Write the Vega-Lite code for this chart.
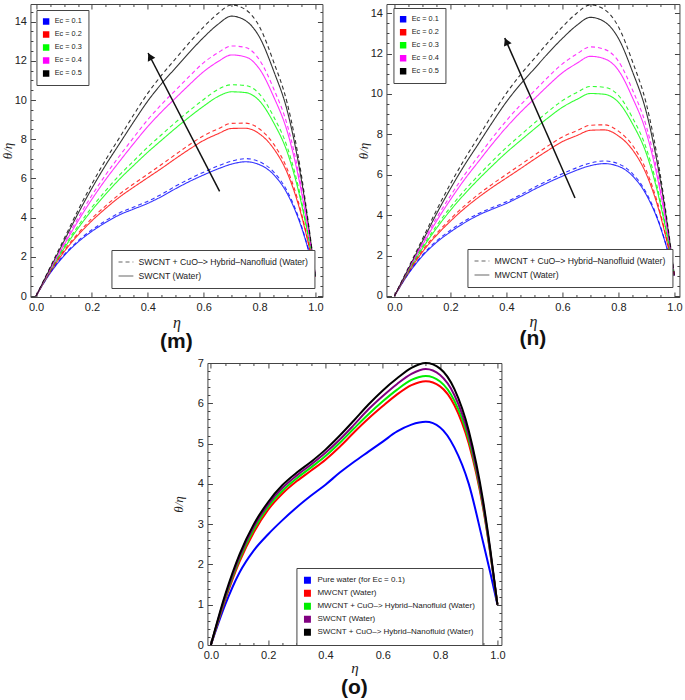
{
"$schema": "https://vega.github.io/schema/vega-lite/v6.json",
"padding": {"left": 0, "top": 2, "right": 0, "bottom": 0},
"background": "white",
"config": {
  "view": {"stroke": "#444", "strokeWidth": 1},
  "axis": {"grid": false, "domain": false, "labelFont": "Liberation Sans", "labelColor": "#222", "tickColor": "#444", "titleColor": "#222", "labelFontSize": 11},
  "legend": {"labelFont": "Liberation Sans", "labelColor": "#222", "labelLimit": 0, "rowPadding": 2}
},
"datasets": {
"m": [
{"e":"0.1","t":"s","x":0,"y":0},{"e":"0.1","t":"s","x":0.05,"y":1.15},{"e":"0.1","t":"s","x":0.1,"y":2.05},{"e":"0.1","t":"s","x":0.15,"y":2.75},{"e":"0.1","t":"s","x":0.2,"y":3.3},{"e":"0.1","t":"s","x":0.25,"y":3.76},{"e":"0.1","t":"s","x":0.3,"y":4.15},{"e":"0.1","t":"s","x":0.35,"y":4.44},{"e":"0.1","t":"s","x":0.4,"y":4.73},{"e":"0.1","t":"s","x":0.45,"y":5.08},{"e":"0.1","t":"s","x":0.5,"y":5.48},{"e":"0.1","t":"s","x":0.55,"y":5.85},{"e":"0.1","t":"s","x":0.6,"y":6.18},{"e":"0.1","t":"s","x":0.65,"y":6.48},{"e":"0.1","t":"s","x":0.7,"y":6.73},{"e":"0.1","t":"s","x":0.75,"y":6.85},{"e":"0.1","t":"s","x":0.8,"y":6.7},{"e":"0.1","t":"s","x":0.85,"y":6.2},{"e":"0.1","t":"s","x":0.9,"y":5.2},{"e":"0.1","t":"s","x":0.95,"y":3.5},{"e":"0.1","t":"s","x":0.975,"y":2.33},{"e":"0.1","t":"s","x":1,"y":1},
{"e":"0.2","t":"s","x":0,"y":0},{"e":"0.2","t":"s","x":0.05,"y":1.2},{"e":"0.2","t":"s","x":0.1,"y":2.25},{"e":"0.2","t":"s","x":0.15,"y":3.1},{"e":"0.2","t":"s","x":0.2,"y":3.84},{"e":"0.2","t":"s","x":0.25,"y":4.48},{"e":"0.2","t":"s","x":0.3,"y":5.06},{"e":"0.2","t":"s","x":0.35,"y":5.56},{"e":"0.2","t":"s","x":0.4,"y":6.04},{"e":"0.2","t":"s","x":0.45,"y":6.52},{"e":"0.2","t":"s","x":0.5,"y":7.02},{"e":"0.2","t":"s","x":0.55,"y":7.5},{"e":"0.2","t":"s","x":0.6,"y":7.94},{"e":"0.2","t":"s","x":0.65,"y":8.27},{"e":"0.2","t":"s","x":0.7,"y":8.55},{"e":"0.2","t":"s","x":0.75,"y":8.56},{"e":"0.2","t":"s","x":0.8,"y":8.27},{"e":"0.2","t":"s","x":0.85,"y":7.53},{"e":"0.2","t":"s","x":0.9,"y":6.25},{"e":"0.2","t":"s","x":0.95,"y":4.1},{"e":"0.2","t":"s","x":0.975,"y":2.65},{"e":"0.2","t":"s","x":1,"y":1},
{"e":"0.3","t":"s","x":0,"y":0},{"e":"0.3","t":"s","x":0.05,"y":1.25},{"e":"0.3","t":"s","x":0.1,"y":2.42},{"e":"0.3","t":"s","x":0.15,"y":3.45},{"e":"0.3","t":"s","x":0.2,"y":4.38},{"e":"0.3","t":"s","x":0.25,"y":5.21},{"e":"0.3","t":"s","x":0.3,"y":5.98},{"e":"0.3","t":"s","x":0.35,"y":6.67},{"e":"0.3","t":"s","x":0.4,"y":7.34},{"e":"0.3","t":"s","x":0.45,"y":7.96},{"e":"0.3","t":"s","x":0.5,"y":8.57},{"e":"0.3","t":"s","x":0.55,"y":9.15},{"e":"0.3","t":"s","x":0.6,"y":9.69},{"e":"0.3","t":"s","x":0.65,"y":10.17},{"e":"0.3","t":"s","x":0.7,"y":10.42},{"e":"0.3","t":"s","x":0.75,"y":10.38},{"e":"0.3","t":"s","x":0.8,"y":9.95},{"e":"0.3","t":"s","x":0.85,"y":8.85},{"e":"0.3","t":"s","x":0.9,"y":7.3},{"e":"0.3","t":"s","x":0.95,"y":4.7},{"e":"0.3","t":"s","x":0.975,"y":2.97},{"e":"0.3","t":"s","x":1,"y":1},
{"e":"0.4","t":"s","x":0,"y":0},{"e":"0.4","t":"s","x":0.05,"y":1.3},{"e":"0.4","t":"s","x":0.1,"y":2.6},{"e":"0.4","t":"s","x":0.15,"y":3.82},{"e":"0.4","t":"s","x":0.2,"y":4.94},{"e":"0.4","t":"s","x":0.25,"y":5.96},{"e":"0.4","t":"s","x":0.3,"y":6.89},{"e":"0.4","t":"s","x":0.35,"y":7.79},{"e":"0.4","t":"s","x":0.4,"y":8.65},{"e":"0.4","t":"s","x":0.45,"y":9.41},{"e":"0.4","t":"s","x":0.5,"y":10.11},{"e":"0.4","t":"s","x":0.55,"y":10.8},{"e":"0.4","t":"s","x":0.6,"y":11.45},{"e":"0.4","t":"s","x":0.65,"y":11.95},{"e":"0.4","t":"s","x":0.7,"y":12.3},{"e":"0.4","t":"s","x":0.75,"y":12.2},{"e":"0.4","t":"s","x":0.8,"y":11.58},{"e":"0.4","t":"s","x":0.85,"y":10.18},{"e":"0.4","t":"s","x":0.9,"y":8.35},{"e":"0.4","t":"s","x":0.95,"y":5.3},{"e":"0.4","t":"s","x":0.975,"y":3.28},{"e":"0.4","t":"s","x":1,"y":1},
{"e":"0.5","t":"s","x":0,"y":0},{"e":"0.5","t":"s","x":0.05,"y":1.4},{"e":"0.5","t":"s","x":0.1,"y":2.8},{"e":"0.5","t":"s","x":0.15,"y":4.2},{"e":"0.5","t":"s","x":0.2,"y":5.5},{"e":"0.5","t":"s","x":0.25,"y":6.7},{"e":"0.5","t":"s","x":0.3,"y":7.8},{"e":"0.5","t":"s","x":0.35,"y":8.9},{"e":"0.5","t":"s","x":0.4,"y":9.95},{"e":"0.5","t":"s","x":0.45,"y":10.85},{"e":"0.5","t":"s","x":0.5,"y":11.65},{"e":"0.5","t":"s","x":0.55,"y":12.45},{"e":"0.5","t":"s","x":0.6,"y":13.2},{"e":"0.5","t":"s","x":0.65,"y":13.85},{"e":"0.5","t":"s","x":0.7,"y":14.28},{"e":"0.5","t":"s","x":0.75,"y":14.05},{"e":"0.5","t":"s","x":0.8,"y":13.2},{"e":"0.5","t":"s","x":0.85,"y":11.5},{"e":"0.5","t":"s","x":0.9,"y":9.4},{"e":"0.5","t":"s","x":0.95,"y":5.9},{"e":"0.5","t":"s","x":0.975,"y":3.6},{"e":"0.5","t":"s","x":1,"y":1},
{"e":"0.1","t":"d","x":0,"y":0},{"e":"0.1","t":"d","x":0.05,"y":1.18},{"e":"0.1","t":"d","x":0.1,"y":2.1},{"e":"0.1","t":"d","x":0.15,"y":2.81},{"e":"0.1","t":"d","x":0.2,"y":3.38},{"e":"0.1","t":"d","x":0.25,"y":3.85},{"e":"0.1","t":"d","x":0.3,"y":4.25},{"e":"0.1","t":"d","x":0.35,"y":4.54},{"e":"0.1","t":"d","x":0.4,"y":4.84},{"e":"0.1","t":"d","x":0.45,"y":5.2},{"e":"0.1","t":"d","x":0.5,"y":5.61},{"e":"0.1","t":"d","x":0.55,"y":5.98},{"e":"0.1","t":"d","x":0.6,"y":6.32},{"e":"0.1","t":"d","x":0.65,"y":6.63},{"e":"0.1","t":"d","x":0.7,"y":6.88},{"e":"0.1","t":"d","x":0.75,"y":7.01},{"e":"0.1","t":"d","x":0.8,"y":6.85},{"e":"0.1","t":"d","x":0.85,"y":6.34},{"e":"0.1","t":"d","x":0.9,"y":5.32},{"e":"0.1","t":"d","x":0.95,"y":3.58},{"e":"0.1","t":"d","x":0.975,"y":2.37},{"e":"0.1","t":"d","x":1,"y":1},
{"e":"0.2","t":"d","x":0,"y":0},{"e":"0.2","t":"d","x":0.05,"y":1.24},{"e":"0.2","t":"d","x":0.1,"y":2.32},{"e":"0.2","t":"d","x":0.15,"y":3.19},{"e":"0.2","t":"d","x":0.2,"y":3.96},{"e":"0.2","t":"d","x":0.25,"y":4.61},{"e":"0.2","t":"d","x":0.3,"y":5.21},{"e":"0.2","t":"d","x":0.35,"y":5.73},{"e":"0.2","t":"d","x":0.4,"y":6.22},{"e":"0.2","t":"d","x":0.45,"y":6.72},{"e":"0.2","t":"d","x":0.5,"y":7.23},{"e":"0.2","t":"d","x":0.55,"y":7.73},{"e":"0.2","t":"d","x":0.6,"y":8.18},{"e":"0.2","t":"d","x":0.65,"y":8.52},{"e":"0.2","t":"d","x":0.7,"y":8.81},{"e":"0.2","t":"d","x":0.75,"y":8.82},{"e":"0.2","t":"d","x":0.8,"y":8.52},{"e":"0.2","t":"d","x":0.85,"y":7.76},{"e":"0.2","t":"d","x":0.9,"y":6.44},{"e":"0.2","t":"d","x":0.95,"y":4.22},{"e":"0.2","t":"d","x":0.975,"y":2.7},{"e":"0.2","t":"d","x":1,"y":1},
{"e":"0.3","t":"d","x":0,"y":0},{"e":"0.3","t":"d","x":0.05,"y":1.29},{"e":"0.3","t":"d","x":0.1,"y":2.5},{"e":"0.3","t":"d","x":0.15,"y":3.57},{"e":"0.3","t":"d","x":0.2,"y":4.53},{"e":"0.3","t":"d","x":0.25,"y":5.39},{"e":"0.3","t":"d","x":0.3,"y":6.19},{"e":"0.3","t":"d","x":0.35,"y":6.9},{"e":"0.3","t":"d","x":0.4,"y":7.6},{"e":"0.3","t":"d","x":0.45,"y":8.24},{"e":"0.3","t":"d","x":0.5,"y":8.87},{"e":"0.3","t":"d","x":0.55,"y":9.47},{"e":"0.3","t":"d","x":0.6,"y":10.03},{"e":"0.3","t":"d","x":0.65,"y":10.53},{"e":"0.3","t":"d","x":0.7,"y":10.78},{"e":"0.3","t":"d","x":0.75,"y":10.74},{"e":"0.3","t":"d","x":0.8,"y":10.3},{"e":"0.3","t":"d","x":0.85,"y":9.16},{"e":"0.3","t":"d","x":0.9,"y":7.56},{"e":"0.3","t":"d","x":0.95,"y":4.86},{"e":"0.3","t":"d","x":0.975,"y":3.03},{"e":"0.3","t":"d","x":1,"y":1},
{"e":"0.4","t":"d","x":0,"y":0},{"e":"0.4","t":"d","x":0.05,"y":1.35},{"e":"0.4","t":"d","x":0.1,"y":2.7},{"e":"0.4","t":"d","x":0.15,"y":3.97},{"e":"0.4","t":"d","x":0.2,"y":5.14},{"e":"0.4","t":"d","x":0.25,"y":6.2},{"e":"0.4","t":"d","x":0.3,"y":7.17},{"e":"0.4","t":"d","x":0.35,"y":8.1},{"e":"0.4","t":"d","x":0.4,"y":9},{"e":"0.4","t":"d","x":0.45,"y":9.79},{"e":"0.4","t":"d","x":0.5,"y":10.51},{"e":"0.4","t":"d","x":0.55,"y":11.23},{"e":"0.4","t":"d","x":0.6,"y":11.91},{"e":"0.4","t":"d","x":0.65,"y":12.4},{"e":"0.4","t":"d","x":0.7,"y":12.76},{"e":"0.4","t":"d","x":0.75,"y":12.68},{"e":"0.4","t":"d","x":0.8,"y":12.04},{"e":"0.4","t":"d","x":0.85,"y":10.59},{"e":"0.4","t":"d","x":0.9,"y":8.68},{"e":"0.4","t":"d","x":0.95,"y":5.51},{"e":"0.4","t":"d","x":0.975,"y":3.35},{"e":"0.4","t":"d","x":1,"y":1},
{"e":"0.5","t":"d","x":0,"y":0},{"e":"0.5","t":"d","x":0.05,"y":1.46},{"e":"0.5","t":"d","x":0.1,"y":2.91},{"e":"0.5","t":"d","x":0.15,"y":4.37},{"e":"0.5","t":"d","x":0.2,"y":5.72},{"e":"0.5","t":"d","x":0.25,"y":6.97},{"e":"0.5","t":"d","x":0.3,"y":8.11},{"e":"0.5","t":"d","x":0.35,"y":9.26},{"e":"0.5","t":"d","x":0.4,"y":10.35},{"e":"0.5","t":"d","x":0.45,"y":11.28},{"e":"0.5","t":"d","x":0.5,"y":12.12},{"e":"0.5","t":"d","x":0.55,"y":12.95},{"e":"0.5","t":"d","x":0.6,"y":13.73},{"e":"0.5","t":"d","x":0.65,"y":14.4},{"e":"0.5","t":"d","x":0.7,"y":14.85},{"e":"0.5","t":"d","x":0.75,"y":14.61},{"e":"0.5","t":"d","x":0.8,"y":13.73},{"e":"0.5","t":"d","x":0.85,"y":11.96},{"e":"0.5","t":"d","x":0.9,"y":9.78},{"e":"0.5","t":"d","x":0.95,"y":6.14},{"e":"0.5","t":"d","x":0.975,"y":3.7},{"e":"0.5","t":"d","x":1,"y":1}
],
"n": [
{"e":"0.1","t":"s","x":0,"y":0},{"e":"0.1","t":"s","x":0.05,"y":1.1},{"e":"0.1","t":"s","x":0.1,"y":1.98},{"e":"0.1","t":"s","x":0.15,"y":2.65},{"e":"0.1","t":"s","x":0.2,"y":3.17},{"e":"0.1","t":"s","x":0.25,"y":3.62},{"e":"0.1","t":"s","x":0.3,"y":4},{"e":"0.1","t":"s","x":0.35,"y":4.3},{"e":"0.1","t":"s","x":0.4,"y":4.58},{"e":"0.1","t":"s","x":0.45,"y":4.92},{"e":"0.1","t":"s","x":0.5,"y":5.28},{"e":"0.1","t":"s","x":0.55,"y":5.62},{"e":"0.1","t":"s","x":0.6,"y":5.93},{"e":"0.1","t":"s","x":0.65,"y":6.22},{"e":"0.1","t":"s","x":0.7,"y":6.45},{"e":"0.1","t":"s","x":0.75,"y":6.55},{"e":"0.1","t":"s","x":0.8,"y":6.42},{"e":"0.1","t":"s","x":0.85,"y":5.95},{"e":"0.1","t":"s","x":0.9,"y":5},{"e":"0.1","t":"s","x":0.95,"y":3.4},{"e":"0.1","t":"s","x":0.975,"y":2.28},{"e":"0.1","t":"s","x":1,"y":1},
{"e":"0.2","t":"s","x":0,"y":0},{"e":"0.2","t":"s","x":0.05,"y":1.16},{"e":"0.2","t":"s","x":0.1,"y":2.18},{"e":"0.2","t":"s","x":0.15,"y":3},{"e":"0.2","t":"s","x":0.2,"y":3.7},{"e":"0.2","t":"s","x":0.25,"y":4.33},{"e":"0.2","t":"s","x":0.3,"y":4.88},{"e":"0.2","t":"s","x":0.35,"y":5.38},{"e":"0.2","t":"s","x":0.4,"y":5.84},{"e":"0.2","t":"s","x":0.45,"y":6.3},{"e":"0.2","t":"s","x":0.5,"y":6.77},{"e":"0.2","t":"s","x":0.55,"y":7.22},{"e":"0.2","t":"s","x":0.6,"y":7.64},{"e":"0.2","t":"s","x":0.65,"y":7.93},{"e":"0.2","t":"s","x":0.7,"y":8.2},{"e":"0.2","t":"s","x":0.75,"y":8.22},{"e":"0.2","t":"s","x":0.8,"y":7.92},{"e":"0.2","t":"s","x":0.85,"y":7.24},{"e":"0.2","t":"s","x":0.9,"y":6.02},{"e":"0.2","t":"s","x":0.95,"y":3.98},{"e":"0.2","t":"s","x":0.975,"y":2.59},{"e":"0.2","t":"s","x":1,"y":1},
{"e":"0.3","t":"s","x":0,"y":0},{"e":"0.3","t":"s","x":0.05,"y":1.22},{"e":"0.3","t":"s","x":0.1,"y":2.35},{"e":"0.3","t":"s","x":0.15,"y":3.35},{"e":"0.3","t":"s","x":0.2,"y":4.24},{"e":"0.3","t":"s","x":0.25,"y":5.04},{"e":"0.3","t":"s","x":0.3,"y":5.77},{"e":"0.3","t":"s","x":0.35,"y":6.45},{"e":"0.3","t":"s","x":0.4,"y":7.1},{"e":"0.3","t":"s","x":0.45,"y":7.69},{"e":"0.3","t":"s","x":0.5,"y":8.27},{"e":"0.3","t":"s","x":0.55,"y":8.83},{"e":"0.3","t":"s","x":0.6,"y":9.34},{"e":"0.3","t":"s","x":0.65,"y":9.72},{"e":"0.3","t":"s","x":0.7,"y":10.02},{"e":"0.3","t":"s","x":0.75,"y":9.98},{"e":"0.3","t":"s","x":0.8,"y":9.59},{"e":"0.3","t":"s","x":0.85,"y":8.53},{"e":"0.3","t":"s","x":0.9,"y":7.04},{"e":"0.3","t":"s","x":0.95,"y":4.55},{"e":"0.3","t":"s","x":0.975,"y":2.89},{"e":"0.3","t":"s","x":1,"y":1},
{"e":"0.4","t":"s","x":0,"y":0},{"e":"0.4","t":"s","x":0.05,"y":1.28},{"e":"0.4","t":"s","x":0.1,"y":2.52},{"e":"0.4","t":"s","x":0.15,"y":3.7},{"e":"0.4","t":"s","x":0.2,"y":4.77},{"e":"0.4","t":"s","x":0.25,"y":5.76},{"e":"0.4","t":"s","x":0.3,"y":6.65},{"e":"0.4","t":"s","x":0.35,"y":7.53},{"e":"0.4","t":"s","x":0.4,"y":8.35},{"e":"0.4","t":"s","x":0.45,"y":9.09},{"e":"0.4","t":"s","x":0.5,"y":9.76},{"e":"0.4","t":"s","x":0.55,"y":10.43},{"e":"0.4","t":"s","x":0.6,"y":11.05},{"e":"0.4","t":"s","x":0.65,"y":11.5},{"e":"0.4","t":"s","x":0.7,"y":11.86},{"e":"0.4","t":"s","x":0.75,"y":11.74},{"e":"0.4","t":"s","x":0.8,"y":11.17},{"e":"0.4","t":"s","x":0.85,"y":9.82},{"e":"0.4","t":"s","x":0.9,"y":8.06},{"e":"0.4","t":"s","x":0.95,"y":5.13},{"e":"0.4","t":"s","x":0.975,"y":3.2},{"e":"0.4","t":"s","x":1,"y":1},
{"e":"0.5","t":"s","x":0,"y":0},{"e":"0.5","t":"s","x":0.05,"y":1.35},{"e":"0.5","t":"s","x":0.1,"y":2.7},{"e":"0.5","t":"s","x":0.15,"y":4.06},{"e":"0.5","t":"s","x":0.2,"y":5.31},{"e":"0.5","t":"s","x":0.25,"y":6.47},{"e":"0.5","t":"s","x":0.3,"y":7.53},{"e":"0.5","t":"s","x":0.35,"y":8.6},{"e":"0.5","t":"s","x":0.4,"y":9.61},{"e":"0.5","t":"s","x":0.45,"y":10.48},{"e":"0.5","t":"s","x":0.5,"y":11.25},{"e":"0.5","t":"s","x":0.55,"y":12.03},{"e":"0.5","t":"s","x":0.6,"y":12.75},{"e":"0.5","t":"s","x":0.65,"y":13.38},{"e":"0.5","t":"s","x":0.7,"y":13.79},{"e":"0.5","t":"s","x":0.75,"y":13.57},{"e":"0.5","t":"s","x":0.8,"y":12.75},{"e":"0.5","t":"s","x":0.85,"y":11.11},{"e":"0.5","t":"s","x":0.9,"y":9.08},{"e":"0.5","t":"s","x":0.95,"y":5.7},{"e":"0.5","t":"s","x":0.975,"y":3.5},{"e":"0.5","t":"s","x":1,"y":1},
{"e":"0.1","t":"d","x":0,"y":0},{"e":"0.1","t":"d","x":0.05,"y":1.13},{"e":"0.1","t":"d","x":0.1,"y":2.03},{"e":"0.1","t":"d","x":0.15,"y":2.72},{"e":"0.1","t":"d","x":0.2,"y":3.25},{"e":"0.1","t":"d","x":0.25,"y":3.71},{"e":"0.1","t":"d","x":0.3,"y":4.08},{"e":"0.1","t":"d","x":0.35,"y":4.38},{"e":"0.1","t":"d","x":0.4,"y":4.66},{"e":"0.1","t":"d","x":0.45,"y":5.01},{"e":"0.1","t":"d","x":0.5,"y":5.38},{"e":"0.1","t":"d","x":0.55,"y":5.73},{"e":"0.1","t":"d","x":0.6,"y":6.05},{"e":"0.1","t":"d","x":0.65,"y":6.34},{"e":"0.1","t":"d","x":0.7,"y":6.58},{"e":"0.1","t":"d","x":0.75,"y":6.68},{"e":"0.1","t":"d","x":0.8,"y":6.54},{"e":"0.1","t":"d","x":0.85,"y":6.06},{"e":"0.1","t":"d","x":0.9,"y":5.1},{"e":"0.1","t":"d","x":0.95,"y":3.45},{"e":"0.1","t":"d","x":0.975,"y":2.3},{"e":"0.1","t":"d","x":1,"y":1},
{"e":"0.2","t":"d","x":0,"y":0},{"e":"0.2","t":"d","x":0.05,"y":1.2},{"e":"0.2","t":"d","x":0.1,"y":2.25},{"e":"0.2","t":"d","x":0.15,"y":3.09},{"e":"0.2","t":"d","x":0.2,"y":3.81},{"e":"0.2","t":"d","x":0.25,"y":4.46},{"e":"0.2","t":"d","x":0.3,"y":5.03},{"e":"0.2","t":"d","x":0.35,"y":5.54},{"e":"0.2","t":"d","x":0.4,"y":6.02},{"e":"0.2","t":"d","x":0.45,"y":6.49},{"e":"0.2","t":"d","x":0.5,"y":6.97},{"e":"0.2","t":"d","x":0.55,"y":7.44},{"e":"0.2","t":"d","x":0.6,"y":7.87},{"e":"0.2","t":"d","x":0.65,"y":8.17},{"e":"0.2","t":"d","x":0.7,"y":8.45},{"e":"0.2","t":"d","x":0.75,"y":8.47},{"e":"0.2","t":"d","x":0.8,"y":8.16},{"e":"0.2","t":"d","x":0.85,"y":7.46},{"e":"0.2","t":"d","x":0.9,"y":6.2},{"e":"0.2","t":"d","x":0.95,"y":4.1},{"e":"0.2","t":"d","x":0.975,"y":2.65},{"e":"0.2","t":"d","x":1,"y":1},
{"e":"0.3","t":"d","x":0,"y":0},{"e":"0.3","t":"d","x":0.05,"y":1.26},{"e":"0.3","t":"d","x":0.1,"y":2.43},{"e":"0.3","t":"d","x":0.15,"y":3.47},{"e":"0.3","t":"d","x":0.2,"y":4.39},{"e":"0.3","t":"d","x":0.25,"y":5.22},{"e":"0.3","t":"d","x":0.3,"y":5.97},{"e":"0.3","t":"d","x":0.35,"y":6.68},{"e":"0.3","t":"d","x":0.4,"y":7.35},{"e":"0.3","t":"d","x":0.45,"y":7.96},{"e":"0.3","t":"d","x":0.5,"y":8.56},{"e":"0.3","t":"d","x":0.55,"y":9.14},{"e":"0.3","t":"d","x":0.6,"y":9.67},{"e":"0.3","t":"d","x":0.65,"y":10.06},{"e":"0.3","t":"d","x":0.7,"y":10.37},{"e":"0.3","t":"d","x":0.75,"y":10.33},{"e":"0.3","t":"d","x":0.8,"y":9.93},{"e":"0.3","t":"d","x":0.85,"y":8.83},{"e":"0.3","t":"d","x":0.9,"y":7.29},{"e":"0.3","t":"d","x":0.95,"y":4.71},{"e":"0.3","t":"d","x":0.975,"y":2.96},{"e":"0.3","t":"d","x":1,"y":1},
{"e":"0.4","t":"d","x":0,"y":0},{"e":"0.4","t":"d","x":0.05,"y":1.33},{"e":"0.4","t":"d","x":0.1,"y":2.62},{"e":"0.4","t":"d","x":0.15,"y":3.85},{"e":"0.4","t":"d","x":0.2,"y":4.96},{"e":"0.4","t":"d","x":0.25,"y":5.99},{"e":"0.4","t":"d","x":0.3,"y":6.92},{"e":"0.4","t":"d","x":0.35,"y":7.83},{"e":"0.4","t":"d","x":0.4,"y":8.68},{"e":"0.4","t":"d","x":0.45,"y":9.45},{"e":"0.4","t":"d","x":0.5,"y":10.15},{"e":"0.4","t":"d","x":0.55,"y":10.85},{"e":"0.4","t":"d","x":0.6,"y":11.49},{"e":"0.4","t":"d","x":0.65,"y":11.96},{"e":"0.4","t":"d","x":0.7,"y":12.33},{"e":"0.4","t":"d","x":0.75,"y":12.21},{"e":"0.4","t":"d","x":0.8,"y":11.62},{"e":"0.4","t":"d","x":0.85,"y":10.21},{"e":"0.4","t":"d","x":0.9,"y":8.38},{"e":"0.4","t":"d","x":0.95,"y":5.34},{"e":"0.4","t":"d","x":0.975,"y":3.3},{"e":"0.4","t":"d","x":1,"y":1},
{"e":"0.5","t":"d","x":0,"y":0},{"e":"0.5","t":"d","x":0.05,"y":1.41},{"e":"0.5","t":"d","x":0.1,"y":2.82},{"e":"0.5","t":"d","x":0.15,"y":4.24},{"e":"0.5","t":"d","x":0.2,"y":5.55},{"e":"0.5","t":"d","x":0.25,"y":6.76},{"e":"0.5","t":"d","x":0.3,"y":7.87},{"e":"0.5","t":"d","x":0.35,"y":8.99},{"e":"0.5","t":"d","x":0.4,"y":10.04},{"e":"0.5","t":"d","x":0.45,"y":10.95},{"e":"0.5","t":"d","x":0.5,"y":11.76},{"e":"0.5","t":"d","x":0.55,"y":12.57},{"e":"0.5","t":"d","x":0.6,"y":13.32},{"e":"0.5","t":"d","x":0.65,"y":13.98},{"e":"0.5","t":"d","x":0.7,"y":14.41},{"e":"0.5","t":"d","x":0.75,"y":14.18},{"e":"0.5","t":"d","x":0.8,"y":13.32},{"e":"0.5","t":"d","x":0.85,"y":11.61},{"e":"0.5","t":"d","x":0.9,"y":9.49},{"e":"0.5","t":"d","x":0.95,"y":5.96},{"e":"0.5","t":"d","x":0.975,"y":3.62},{"e":"0.5","t":"d","x":1,"y":1}
],
"o": [
{"c":"w","x":0,"y":0},{"c":"w","x":0.05,"y":1},{"c":"w","x":0.1,"y":1.8},{"c":"w","x":0.15,"y":2.35},{"c":"w","x":0.2,"y":2.75},{"c":"w","x":0.25,"y":3.1},{"c":"w","x":0.3,"y":3.42},{"c":"w","x":0.35,"y":3.71},{"c":"w","x":0.4,"y":3.98},{"c":"w","x":0.45,"y":4.28},{"c":"w","x":0.5,"y":4.55},{"c":"w","x":0.55,"y":4.8},{"c":"w","x":0.6,"y":5.05},{"c":"w","x":0.65,"y":5.3},{"c":"w","x":0.7,"y":5.47},{"c":"w","x":0.75,"y":5.54},{"c":"w","x":0.8,"y":5.4},{"c":"w","x":0.85,"y":4.9},{"c":"w","x":0.9,"y":4},{"c":"w","x":0.95,"y":2.55},{"c":"w","x":0.975,"y":1.8},{"c":"w","x":1,"y":1},
{"c":"mw","x":0,"y":0},{"c":"mw","x":0.05,"y":1.12},{"c":"mw","x":0.1,"y":2.07},{"c":"mw","x":0.15,"y":2.8},{"c":"mw","x":0.2,"y":3.36},{"c":"mw","x":0.25,"y":3.76},{"c":"mw","x":0.3,"y":4.07},{"c":"mw","x":0.35,"y":4.33},{"c":"mw","x":0.4,"y":4.6},{"c":"mw","x":0.45,"y":4.92},{"c":"mw","x":0.5,"y":5.28},{"c":"mw","x":0.55,"y":5.62},{"c":"mw","x":0.6,"y":5.93},{"c":"mw","x":0.65,"y":6.22},{"c":"mw","x":0.7,"y":6.45},{"c":"mw","x":0.75,"y":6.55},{"c":"mw","x":0.8,"y":6.42},{"c":"mw","x":0.85,"y":5.95},{"c":"mw","x":0.9,"y":5},{"c":"mw","x":0.95,"y":3.4},{"c":"mw","x":0.975,"y":2.28},{"c":"mw","x":1,"y":1},
{"c":"mwh","x":0,"y":0},{"c":"mwh","x":0.05,"y":1.16},{"c":"mwh","x":0.1,"y":2.13},{"c":"mwh","x":0.15,"y":2.87},{"c":"mwh","x":0.2,"y":3.43},{"c":"mwh","x":0.25,"y":3.83},{"c":"mwh","x":0.3,"y":4.14},{"c":"mwh","x":0.35,"y":4.41},{"c":"mwh","x":0.4,"y":4.69},{"c":"mwh","x":0.45,"y":5.02},{"c":"mwh","x":0.5,"y":5.38},{"c":"mwh","x":0.55,"y":5.73},{"c":"mwh","x":0.6,"y":6.05},{"c":"mwh","x":0.65,"y":6.34},{"c":"mwh","x":0.7,"y":6.58},{"c":"mwh","x":0.75,"y":6.68},{"c":"mwh","x":0.8,"y":6.54},{"c":"mwh","x":0.85,"y":6.06},{"c":"mwh","x":0.9,"y":5.1},{"c":"mwh","x":0.95,"y":3.45},{"c":"mwh","x":0.975,"y":2.3},{"c":"mwh","x":1,"y":1},
{"c":"sw","x":0,"y":0},{"c":"sw","x":0.05,"y":1.2},{"c":"sw","x":0.1,"y":2.19},{"c":"sw","x":0.15,"y":2.94},{"c":"sw","x":0.2,"y":3.49},{"c":"sw","x":0.25,"y":3.9},{"c":"sw","x":0.3,"y":4.21},{"c":"sw","x":0.35,"y":4.48},{"c":"sw","x":0.4,"y":4.77},{"c":"sw","x":0.45,"y":5.1},{"c":"sw","x":0.5,"y":5.47},{"c":"sw","x":0.55,"y":5.85},{"c":"sw","x":0.6,"y":6.18},{"c":"sw","x":0.65,"y":6.48},{"c":"sw","x":0.7,"y":6.73},{"c":"sw","x":0.75,"y":6.85},{"c":"sw","x":0.8,"y":6.7},{"c":"sw","x":0.85,"y":6.2},{"c":"sw","x":0.9,"y":5.2},{"c":"sw","x":0.95,"y":3.5},{"c":"sw","x":0.975,"y":2.33},{"c":"sw","x":1,"y":1},
{"c":"swh","x":0,"y":0},{"c":"swh","x":0.05,"y":1.25},{"c":"swh","x":0.1,"y":2.25},{"c":"swh","x":0.15,"y":3},{"c":"swh","x":0.2,"y":3.55},{"c":"swh","x":0.25,"y":3.97},{"c":"swh","x":0.3,"y":4.28},{"c":"swh","x":0.35,"y":4.55},{"c":"swh","x":0.4,"y":4.85},{"c":"swh","x":0.45,"y":5.2},{"c":"swh","x":0.5,"y":5.58},{"c":"swh","x":0.55,"y":5.97},{"c":"swh","x":0.6,"y":6.32},{"c":"swh","x":0.65,"y":6.62},{"c":"swh","x":0.7,"y":6.88},{"c":"swh","x":0.75,"y":7},{"c":"swh","x":0.8,"y":6.86},{"c":"swh","x":0.85,"y":6.35},{"c":"swh","x":0.9,"y":5.32},{"c":"swh","x":0.95,"y":3.58},{"c":"swh","x":0.975,"y":2.38},{"c":"swh","x":1,"y":1}
]
},
"vconcat": [
{
 "hconcat": [
  {
   "width": 292, "height": 293,
   "title": {"text": "(m)", "orient": "bottom", "fontSize": 21, "fontWeight": "bold", "font": "Liberation Sans", "offset": 1, "color": "#111"},
   "data": {"name": "m"},
   "layer": [
    {
     "mark": {"type": "line", "interpolate": "monotone", "strokeWidth": 1.1, "opacity": 0.8},
     "encoding": {
      "x": {"field": "x", "type": "quantitative", "scale": {"domain": [-0.02, 1.025], "nice": false, "zero": false},
            "axis": {"orient": "bottom", "values": [0, 0.2, 0.4, 0.6, 0.8, 1], "format": ".1f", "ticks": false, "labelPadding": 4, "title": "η", "titleFont": "Liberation Serif", "titleFontStyle": "italic", "titleFontWeight": "normal", "titleFontSize": 16, "titlePadding": 2}},
      "y": {"field": "y", "type": "quantitative", "scale": {"domain": [-0.05, 14.9], "nice": false, "zero": false},
            "axis": {"orient": "left", "values": [0, 2, 4, 6, 8, 10, 12, 14], "ticks": false, "labelPadding": 4, "title": "θ/η", "titleFont": "Liberation Serif", "titleFontStyle": "italic", "titleFontWeight": "normal", "titleFontSize": 13, "titlePadding": 0}},
      "color": {"field": "e", "type": "nominal", "scale": {"domain": ["0.1", "0.2", "0.3", "0.4", "0.5"], "range": ["#0000ff", "#ff0000", "#00ff00", "#ff00ff", "#000000"]},
            "legend": {"orient": "none", "legendX": 6, "legendY": 6, "title": null, "symbolType": "square", "symbolSize": 9, "symbolStrokeWidth": 3.5, "symbolOpacity": 1, "labelFontSize": 7.3, "labelExpr": "'Ec = ' + datum.label", "strokeColor": "#444", "fillColor": "white", "padding": 6, "clipHeight": 10.8, "labelOffset": 5}},
      "strokeDash": {"field": "t", "type": "nominal", "scale": {"domain": ["d", "s"], "range": [[4, 3], [1, 0]]},
            "legend": {"orient": "none", "legendX": 81, "legendY": 246, "title": null, "symbolType": "stroke", "symbolSize": 220, "symbolStrokeColor": "#666", "symbolStrokeWidth": 1.2, "symbolOpacity": 1, "labelFontSize": 8.7, "labelExpr": "datum.label == 'd' ? 'SWCNT + CuO–> Hybrid–Nanofluid (Water)' : 'SWCNT (Water)'", "strokeColor": "#444", "fillColor": "white", "padding": 6, "clipHeight": 12}}
     }
    },
    {
     "data": {"values": [{"x": 0.657, "y": 5.34, "x2": 0.401, "y2": 12.4}]},
     "mark": {"type": "rule", "color": "#111", "strokeWidth": 1.5},
     "encoding": {
      "x": {"field": "x", "type": "quantitative", "scale": {"domain": [-0.02, 1.025], "nice": false, "zero": false},
            "axis": {"orient": "bottom", "values": [0, 0.2, 0.4, 0.6, 0.8, 1], "tickSize": -5, "labels": false, "title": null}},
      "y": {"field": "y", "type": "quantitative", "scale": {"domain": [-0.05, 14.9], "nice": false, "zero": false},
            "axis": {"orient": "left", "values": [0, 2, 4, 6, 8, 10, 12, 14], "tickSize": -5, "labels": false, "title": null}},
      "x2": {"field": "x2"},
      "y2": {"field": "y2"}
     }
    },
    {
     "data": {"values": [{"x": 0.4075, "y": 12.22}]},
     "mark": {"type": "point", "shape": "triangle-up", "filled": true, "color": "#111", "size": 70, "angle": 332.7, "opacity": 1},
     "encoding": {
      "x": {"field": "x", "type": "quantitative", "scale": {"domain": [-0.02, 1.025], "nice": false, "zero": false},
            "axis": {"orient": "top", "values": [0, 0.2, 0.4, 0.6, 0.8, 1], "tickSize": -5, "labels": false, "title": null}},
      "y": {"field": "y", "type": "quantitative", "scale": {"domain": [-0.05, 14.9], "nice": false, "zero": false},
            "axis": {"orient": "right", "values": [0, 2, 4, 6, 8, 10, 12, 14], "tickSize": -5, "labels": false, "title": null}}
     }
    },
    {
     "mark": {"type": "point", "opacity": 0, "size": 1},
     "encoding": {
      "x": {"field": "x", "type": "quantitative", "scale": {"domain": [-0.02, 1.025], "nice": false, "zero": false},
            "axis": {"orient": "bottom", "values": [0.05, 0.1, 0.15, 0.25, 0.3, 0.35, 0.45, 0.5, 0.55, 0.65, 0.7, 0.75, 0.85, 0.9, 0.95], "tickSize": -2.5, "labels": false, "title": null}},
      "y": {"field": "y", "type": "quantitative", "scale": {"domain": [-0.05, 14.9], "nice": false, "zero": false},
            "axis": {"orient": "left", "values": [0.5, 1, 1.5, 2.5, 3, 3.5, 4.5, 5, 5.5, 6.5, 7, 7.5, 8.5, 9, 9.5, 10.5, 11, 11.5, 12.5, 13, 13.5, 14.5], "tickSize": -2.5, "labels": false, "title": null}}
     }
    },
    {
     "mark": {"type": "point", "opacity": 0, "size": 1},
     "encoding": {
      "x": {"field": "x", "type": "quantitative", "scale": {"domain": [-0.02, 1.025], "nice": false, "zero": false},
            "axis": {"orient": "top", "values": [0.05, 0.1, 0.15, 0.25, 0.3, 0.35, 0.45, 0.5, 0.55, 0.65, 0.7, 0.75, 0.85, 0.9, 0.95], "tickSize": -2.5, "labels": false, "title": null}},
      "y": {"field": "y", "type": "quantitative", "scale": {"domain": [-0.05, 14.9], "nice": false, "zero": false},
            "axis": {"orient": "right", "values": [0.5, 1, 1.5, 2.5, 3, 3.5, 4.5, 5, 5.5, 6.5, 7, 7.5, 8.5, 9, 9.5, 10.5, 11, 11.5, 12.5, 13, 13.5, 14.5], "tickSize": -2.5, "labels": false, "title": null}}
     }
    }
   ],
   "resolve": {"axis": {"x": "independent", "y": "independent"}}
  },
  {
   "width": 293, "height": 293,
   "title": {"text": "(n)", "orient": "bottom", "fontSize": 21, "fontWeight": "bold", "font": "Liberation Sans", "offset": -1, "color": "#111"},
   "data": {"name": "n"},
   "layer": [
    {
     "mark": {"type": "line", "interpolate": "monotone", "strokeWidth": 1.1, "opacity": 0.8},
     "encoding": {
      "x": {"field": "x", "type": "quantitative", "scale": {"domain": [-0.0286, 1.018], "nice": false, "zero": false},
            "axis": {"orient": "bottom", "values": [0, 0.2, 0.4, 0.6, 0.8, 1], "format": ".1f", "ticks": false, "labelPadding": 4, "title": "η", "titleFont": "Liberation Serif", "titleFontStyle": "italic", "titleFontWeight": "normal", "titleFontSize": 16, "titlePadding": 1}},
      "y": {"field": "y", "type": "quantitative", "scale": {"domain": [-0.05, 14.45], "nice": false, "zero": false},
            "axis": {"orient": "left", "values": [0, 2, 4, 6, 8, 10, 12, 14], "ticks": false, "labelPadding": 4, "title": "θ/η", "titleFont": "Liberation Serif", "titleFontStyle": "italic", "titleFontWeight": "normal", "titleFontSize": 13, "titlePadding": 0}},
      "color": {"field": "e", "type": "nominal", "scale": {"domain": ["0.1", "0.2", "0.3", "0.4", "0.5"], "range": ["#0000ff", "#ff0000", "#00ff00", "#ff00ff", "#000000"]},
            "legend": {"orient": "none", "legendX": 7, "legendY": 4, "title": null, "symbolType": "square", "symbolSize": 9, "symbolStrokeWidth": 3.5, "symbolOpacity": 1, "labelFontSize": 7.3, "labelExpr": "'Ec = ' + datum.label", "strokeColor": "#444", "fillColor": "white", "padding": 6, "clipHeight": 10.5, "labelOffset": 5}},
      "strokeDash": {"field": "t", "type": "nominal", "scale": {"domain": ["d", "s"], "range": [[4, 3], [1, 0]]},
            "legend": {"orient": "none", "legendX": 81, "legendY": 245, "title": null, "symbolType": "stroke", "symbolSize": 220, "symbolStrokeColor": "#666", "symbolStrokeWidth": 1.2, "symbolOpacity": 1, "labelFontSize": 8.7, "labelExpr": "datum.label == 'd' ? 'MWCNT + CuO–> Hybrid–Nanofluid (Water)' : 'MWCNT (Water)'", "strokeColor": "#444", "fillColor": "white", "padding": 6, "clipHeight": 12}}
     }
    },
    {
     "data": {"values": [{"x": 0.645, "y": 4.85, "x2": 0.394, "y2": 12.77}]},
     "mark": {"type": "rule", "color": "#111", "strokeWidth": 1.5},
     "encoding": {
      "x": {"field": "x", "type": "quantitative", "scale": {"domain": [-0.0286, 1.018], "nice": false, "zero": false},
            "axis": {"orient": "bottom", "values": [0, 0.2, 0.4, 0.6, 0.8, 1], "tickSize": -5, "labels": false, "title": null}},
      "y": {"field": "y", "type": "quantitative", "scale": {"domain": [-0.05, 14.45], "nice": false, "zero": false},
            "axis": {"orient": "left", "values": [0, 2, 4, 6, 8, 10, 12, 14], "tickSize": -5, "labels": false, "title": null}},
      "x2": {"field": "x2"},
      "y2": {"field": "y2"}
     }
    },
    {
     "data": {"values": [{"x": 0.3997, "y": 12.59}]},
     "mark": {"type": "point", "shape": "triangle-up", "filled": true, "color": "#111", "size": 70, "angle": 336.2, "opacity": 1},
     "encoding": {
      "x": {"field": "x", "type": "quantitative", "scale": {"domain": [-0.0286, 1.018], "nice": false, "zero": false},
            "axis": {"orient": "top", "values": [0, 0.2, 0.4, 0.6, 0.8, 1], "tickSize": -5, "labels": false, "title": null}},
      "y": {"field": "y", "type": "quantitative", "scale": {"domain": [-0.05, 14.45], "nice": false, "zero": false},
            "axis": {"orient": "right", "values": [0, 2, 4, 6, 8, 10, 12, 14], "tickSize": -5, "labels": false, "title": null}}
     }
    },
    {
     "mark": {"type": "point", "opacity": 0, "size": 1},
     "encoding": {
      "x": {"field": "x", "type": "quantitative", "scale": {"domain": [-0.0286, 1.018], "nice": false, "zero": false},
            "axis": {"orient": "bottom", "values": [0.05, 0.1, 0.15, 0.25, 0.3, 0.35, 0.45, 0.5, 0.55, 0.65, 0.7, 0.75, 0.85, 0.9, 0.95], "tickSize": -2.5, "labels": false, "title": null}},
      "y": {"field": "y", "type": "quantitative", "scale": {"domain": [-0.05, 14.45], "nice": false, "zero": false},
            "axis": {"orient": "left", "values": [0.5, 1, 1.5, 2.5, 3, 3.5, 4.5, 5, 5.5, 6.5, 7, 7.5, 8.5, 9, 9.5, 10.5, 11, 11.5, 12.5, 13, 13.5], "tickSize": -2.5, "labels": false, "title": null}}
     }
    },
    {
     "mark": {"type": "point", "opacity": 0, "size": 1},
     "encoding": {
      "x": {"field": "x", "type": "quantitative", "scale": {"domain": [-0.0286, 1.018], "nice": false, "zero": false},
            "axis": {"orient": "top", "values": [0.05, 0.1, 0.15, 0.25, 0.3, 0.35, 0.45, 0.5, 0.55, 0.65, 0.7, 0.75, 0.85, 0.9, 0.95], "tickSize": -2.5, "labels": false, "title": null}},
      "y": {"field": "y", "type": "quantitative", "scale": {"domain": [-0.05, 14.45], "nice": false, "zero": false},
            "axis": {"orient": "right", "values": [0.5, 1, 1.5, 2.5, 3, 3.5, 4.5, 5, 5.5, 6.5, 7, 7.5, 8.5, 9, 9.5, 10.5, 11, 11.5, 12.5, 13, 13.5], "tickSize": -2.5, "labels": false, "title": null}}
     }
    }
   ],
   "resolve": {"axis": {"x": "independent", "y": "independent"}}
  }
 ],
 "spacing": 32,
 "resolve": {"scale": {"color": "independent", "strokeDash": "independent"}, "legend": {"color": "independent", "strokeDash": "independent"}}
},
{
 "width": 294, "height": 282,
 "title": {"text": "(o)", "orient": "bottom", "fontSize": 21, "fontWeight": "bold", "font": "Liberation Sans", "offset": 2, "color": "#111"},
 "data": {"name": "o"},
 "layer": [
  {
   "mark": {"type": "line", "interpolate": "monotone", "strokeWidth": 2},
   "encoding": {
    "x": {"field": "x", "type": "quantitative", "scale": {"domain": [-0.012, 1.014], "nice": false, "zero": false},
          "axis": {"orient": "bottom", "values": [0, 0.2, 0.4, 0.6, 0.8, 1], "format": ".1f", "ticks": false, "labelPadding": 4, "title": "η", "titleFont": "Liberation Serif", "titleFontStyle": "italic", "titleFontWeight": "normal", "titleFontSize": 15, "titlePadding": 0}},
    "y": {"field": "y", "type": "quantitative", "scale": {"domain": [0, 7], "nice": false, "zero": false},
          "axis": {"orient": "left", "values": [0, 1, 2, 3, 4, 5, 6, 7], "ticks": false, "labelPadding": 4, "title": "θ/η", "titleFont": "Liberation Serif", "titleFontStyle": "italic", "titleFontWeight": "normal", "titleFontSize": 13, "titlePadding": 12}},
    "color": {"field": "c", "type": "nominal", "scale": {"domain": ["w", "mw", "mwh", "sw", "swh"], "range": ["#0000ff", "#ff0000", "#00ee00", "#800080", "#000000"]},
          "legend": {"orient": "none", "legendX": 89, "legendY": 205, "title": null, "symbolType": "square", "symbolSize": 12, "symbolStrokeWidth": 3.5, "symbolOpacity": 1, "labelFontSize": 8, "labelOffset": 6, "labelExpr": "datum.label == 'w' ? 'Pure water (for Ec = 0.1)' : datum.label == 'mw' ? 'MWCNT (Water)' : datum.label == 'mwh' ? 'MWCNT + CuO–> Hybrid–Nanofluid (Water)' : datum.label == 'sw' ? 'SWCNT (Water)' : 'SWCNT + CuO–> Hybrid–Nanofluid (Water)'", "strokeColor": "#444", "fillColor": "white", "padding": 7, "clipHeight": 10.5}}
   }
  },
  {
   "mark": {"type": "point", "opacity": 0, "size": 1},
   "encoding": {
    "x": {"field": "x", "type": "quantitative", "scale": {"domain": [-0.012, 1.014], "nice": false, "zero": false},
          "axis": {"orient": "bottom", "values": [0, 0.2, 0.4, 0.6, 0.8, 1], "tickSize": -5, "labels": false, "title": null}},
    "y": {"field": "y", "type": "quantitative", "scale": {"domain": [0, 7], "nice": false, "zero": false},
          "axis": {"orient": "left", "values": [0, 1, 2, 3, 4, 5, 6, 7], "tickSize": -5, "labels": false, "title": null}}
   }
  },
  {
   "mark": {"type": "point", "opacity": 0, "size": 1},
   "encoding": {
    "x": {"field": "x", "type": "quantitative", "scale": {"domain": [-0.012, 1.014], "nice": false, "zero": false},
          "axis": {"orient": "top", "values": [0, 0.2, 0.4, 0.6, 0.8, 1], "tickSize": -5, "labels": false, "title": null}},
    "y": {"field": "y", "type": "quantitative", "scale": {"domain": [0, 7], "nice": false, "zero": false},
          "axis": {"orient": "right", "values": [0, 1, 2, 3, 4, 5, 6, 7], "tickSize": -5, "labels": false, "title": null}}
   }
  },
  {
   "mark": {"type": "point", "opacity": 0, "size": 1},
   "encoding": {
    "x": {"field": "x", "type": "quantitative", "scale": {"domain": [-0.012, 1.014], "nice": false, "zero": false},
          "axis": {"orient": "bottom", "values": [0.05, 0.1, 0.15, 0.25, 0.3, 0.35, 0.45, 0.5, 0.55, 0.65, 0.7, 0.75, 0.85, 0.9, 0.95], "tickSize": -2.5, "labels": false, "title": null}},
    "y": {"field": "y", "type": "quantitative", "scale": {"domain": [0, 7], "nice": false, "zero": false},
          "axis": {"orient": "left", "values": [0.2, 0.4, 0.6, 0.8, 1.2, 1.4, 1.6, 1.8, 2.2, 2.4, 2.6, 2.8, 3.2, 3.4, 3.6, 3.8, 4.2, 4.4, 4.6, 4.8, 5.2, 5.4, 5.6, 5.8, 6.2, 6.4, 6.6, 6.8], "tickSize": -2.5, "labels": false, "title": null}}
   }
  },
  {
   "mark": {"type": "point", "opacity": 0, "size": 1},
   "encoding": {
    "x": {"field": "x", "type": "quantitative", "scale": {"domain": [-0.012, 1.014], "nice": false, "zero": false},
          "axis": {"orient": "top", "values": [0.05, 0.1, 0.15, 0.25, 0.3, 0.35, 0.45, 0.5, 0.55, 0.65, 0.7, 0.75, 0.85, 0.9, 0.95], "tickSize": -2.5, "labels": false, "title": null}},
    "y": {"field": "y", "type": "quantitative", "scale": {"domain": [0, 7], "nice": false, "zero": false},
          "axis": {"orient": "right", "values": [0.2, 0.4, 0.6, 0.8, 1.2, 1.4, 1.6, 1.8, 2.2, 2.4, 2.6, 2.8, 3.2, 3.4, 3.6, 3.8, 4.2, 4.4, 4.6, 4.8, 5.2, 5.4, 5.6, 5.8, 6.2, 6.4, 6.6, 6.8], "tickSize": -2.5, "labels": false, "title": null}}
   }
  }
 ],
 "resolve": {"axis": {"x": "independent", "y": "independent"}}
}
],
"spacing": 3,
"center": true,
"resolve": {"scale": {"color": "independent", "strokeDash": "independent"}, "legend": {"color": "independent", "strokeDash": "independent"}}
}
